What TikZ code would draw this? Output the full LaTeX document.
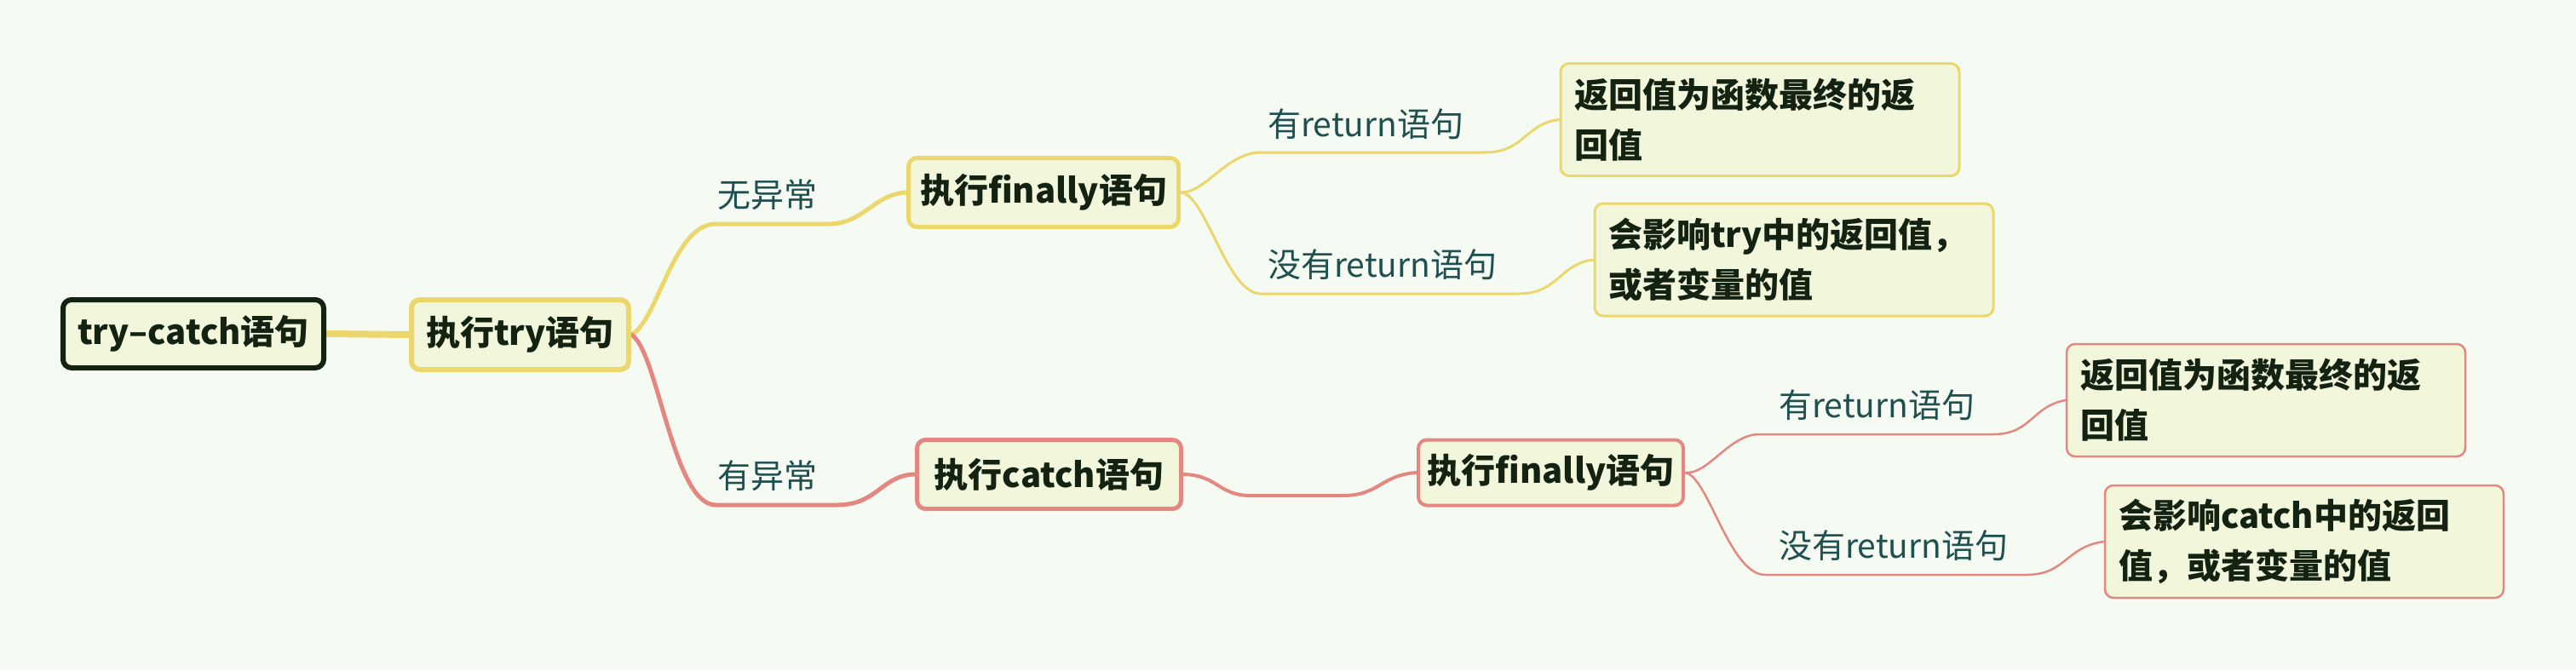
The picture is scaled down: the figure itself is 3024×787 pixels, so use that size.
\documentclass[tikz,border=0pt]{standalone}
\usepackage{fontspec}
\setmainfont{Noto Sans CJK SC}
\usetikzlibrary{backgrounds}
\definecolor{bg}{HTML}{F5FBF2}
\definecolor{boxfill}{HTML}{F2F7DC}
\definecolor{yel}{HTML}{EBD76B}
\definecolor{rd}{HTML}{E48781}
\definecolor{rootc}{HTML}{142212}
\definecolor{ink}{HTML}{142212}
\definecolor{lab}{HTML}{1F4F4F}
\begin{document}
\begin{tikzpicture}[x=1pt,y=-1pt,
  box/.style={rounded corners=10pt, fill=boxfill, text=ink, inner sep=0pt,
    font=\bfseries\fontsize{40}{59}\selectfont},
  leaf/.style={box, align=left, text width=436pt, inner xsep=16pt, inner ysep=0pt, minimum height=132pt},
  lbl/.style={anchor=west, inner sep=0pt, text=lab, font=\fontsize{39}{48}\selectfont},
  conn/.style={line cap=round, line join=round}]
\useasboundingbox (0,0) rectangle (3024,787);

% nodes
\node[box, draw=rootc, line width=6pt, minimum width=306pt, minimum height=80pt] (root) at (227,392) {try–catch语句};
\node[box, draw=yel, line width=6pt, minimum width=255pt, minimum height=82pt] (try) at (610.5,393) {执行try语句};
\node[box, draw=yel, line width=5pt, minimum width=317pt, minimum height=81pt] (fin1) at (1225,226) {执行finally语句};
\node[box, draw=rd, line width=5pt, minimum width=310pt, minimum height=81pt] (catch) at (1231.5,557) {执行catch语句};
\node[box, draw=rd, line width=4pt, minimum width=311pt, minimum height=77pt] (fin2) at (1820.5,555) {执行finally语句};
\node[leaf, draw=yel, line width=3pt] (a1) at (2066,140.5) {返回值为函数最终的返\\回值};
\node[leaf, draw=yel, line width=3pt] (a2) at (2106,305) {会影响try中的返回值，\\或者变量的值};
\node[leaf, draw=rd, line width=2.5pt] (b1) at (2660,470) {返回值为函数最终的返\\回值};
\node[leaf, draw=rd, line width=2.5pt] (b2) at (2705,636) {会影响catch中的返回\\值，或者变量的值};

% labels
\node[lbl] (l1) at (842,229) {无异常};
\node[lbl] (l2) at (842,559) {有异常};
\node[lbl] (l3) at (1488,146) {有return语句};
\node[lbl] (l4) at (1488,311) {没有return语句};
\node[lbl] (l5) at (2088,476) {有return语句};
\node[lbl] (l6) at (2088,641) {没有return语句};

% connector bend points
\coordinate (y1a) at (840,263);  \coordinate (y1b) at (972,263);
\coordinate (r1a) at (840,593);  \coordinate (r1b) at (983,593);
\coordinate (y2a) at (1480,179); \coordinate (y2b) at (1743,179);
\coordinate (y3a) at (1480,345); \coordinate (y3b) at (1782,345);
\coordinate (r2a) at (1468,582); \coordinate (r2b) at (1576,582);
\coordinate (r3a) at (2065,510); \coordinate (r3b) at (2340,510);
\coordinate (r4a) at (2072,675); \coordinate (r4b) at (2379,675);

% connectors, behind the boxes
\begin{pgfonlayer}{background}
\fill[bg] (0,0) rectangle (3024,787);
\draw[conn, yel, line width=8pt] (root.east) -- (try.west);
\draw[conn, yel, line width=5pt] (try.east) .. controls (772,378) and (790,263) .. (y1a) -- (y1b)
  .. controls (1015,263) and (1025,228) .. (fin1.west);
\draw[conn, rd, line width=5pt] (try.east) .. controls (772,410) and (790,593) .. (r1a) -- (r1b)
  .. controls (1030,593) and (1035,558) .. (catch.west);
\draw[conn, yel, line width=3pt] (fin1.east) .. controls (1415,227) and (1440,179) .. (y2a) -- (y2b)
  .. controls (1790,179) and (1790,145) .. (a1.west);
\draw[conn, yel, line width=3pt] (fin1.east) .. controls (1415,227) and (1440,345) .. (y3a) -- (y3b)
  .. controls (1830,345) and (1830,310) .. (a2.west);
\draw[conn, rd, line width=4pt] (catch.east) .. controls (1430,558) and (1430,582) .. (r2a) -- (r2b)
  .. controls (1620,582) and (1620,558) .. (fin2.west);
\draw[conn, rd, line width=2.5pt] (fin2.east) .. controls (2005,558) and (2030,510) .. (r3a) -- (r3b)
  .. controls (2385,510) and (2385,477) .. (b1.west);
\draw[conn, rd, line width=2.5pt] (fin2.east) .. controls (2005,558) and (2030,675) .. (r4a) -- (r4b)
  .. controls (2425,675) and (2425,642) .. (b2.west);
\end{pgfonlayer}
\end{tikzpicture}
\end{document}
